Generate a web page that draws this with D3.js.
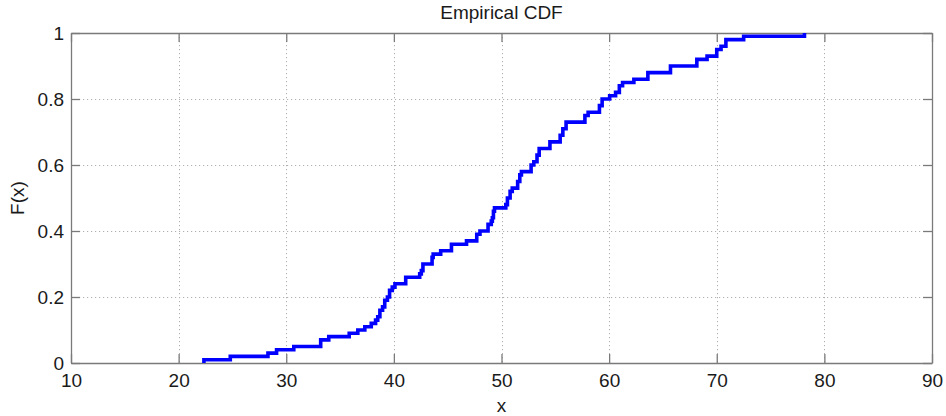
<!DOCTYPE html>
<html><head><meta charset="utf-8">
<script src="https://cdn.jsdelivr.net/npm/d3@7/dist/d3.min.js"></script>
<style>
body{margin:0;background:#fff}
text{font-family:"Liberation Sans",Arial,Helvetica,sans-serif;fill:#1a1a1a}
</style>
</head><body>
<svg id="c" width="946" height="416"></svg>
<script>
const title = "Empirical CDF";
const xLabel = "x";
const yLabel = "F(x)";
const xTicks = [10, 20, 30, 40, 50, 60, 70, 80, 90];
const yTicks = [0, 0.2, 0.4, 0.6, 0.8, 1];
// step locations (x) and CDF value after each step
const stepX = [22.35, 22.35, 24.8, 28.3, 29.1, 30.7, 33.2, 33.95, 35.85, 36.65, 37.3, 37.9, 38.3, 38.5, 38.7, 38.95, 39.15, 39.4, 39.6, 39.85, 40.1, 41.1, 42.4, 42.55, 42.7, 43.55, 43.65, 44.35, 45.35, 46.75, 47.7, 48.0, 48.75, 49.05, 49.15, 49.25, 49.35, 50.4, 50.55, 50.8, 51.0, 51.5, 51.7, 51.85, 52.75, 53.0, 53.3, 53.5, 54.5, 55.45, 55.7, 56.0, 57.75, 58.05, 59.1, 59.35, 60.05, 60.6, 60.95, 61.25, 62.3, 63.6, 65.7, 68.15, 69.1, 70.0, 70.4, 70.85, 72.5, 78.15];
const stepF = [0, 0.01, 0.02, 0.03, 0.04, 0.05, 0.07, 0.08, 0.09, 0.10, 0.11, 0.12, 0.13, 0.14, 0.16, 0.17, 0.19, 0.20, 0.22, 0.23, 0.24, 0.26, 0.27, 0.28, 0.30, 0.32, 0.33, 0.34, 0.36, 0.37, 0.39, 0.40, 0.42, 0.43, 0.44, 0.46, 0.47, 0.48, 0.50, 0.52, 0.53, 0.55, 0.57, 0.58, 0.60, 0.61, 0.63, 0.65, 0.67, 0.69, 0.71, 0.73, 0.75, 0.76, 0.78, 0.80, 0.81, 0.82, 0.84, 0.85, 0.86, 0.88, 0.90, 0.92, 0.93, 0.95, 0.96, 0.98, 0.99, 1.00];

const W = 946, H = 416;
const m = {l: 71, r: 932, t: 33, b: 363};
const svg = d3.select("#c");
const x = d3.scaleLinear().domain([10, 90]).range([m.l, m.r]);
const y = d3.scaleLinear().domain([0, 1]).range([m.b, m.t]);
const axisColor = "#7a7a7a";
const fs = 19;

// grid
const grid = svg.append("g").attr("stroke", "#b0b0b0").attr("stroke-width", 1).attr("stroke-dasharray", "1.2,2.8");
grid.selectAll("line.gx").data(xTicks.filter(d => d > 10 && d < 90)).join("line")
  .attr("x1", d => Math.round(x(d)) + 0.5).attr("x2", d => Math.round(x(d)) + 0.5)
  .attr("y1", m.t).attr("y2", m.b);
grid.selectAll("line.gy").data(yTicks.filter(d => d > 0 && d < 1)).join("line")
  .attr("y1", d => Math.round(y(d)) + 0.5).attr("y2", d => Math.round(y(d)) + 0.5)
  .attr("x1", m.l).attr("x2", m.r);

// axes
function styleAxis(g) {
  g.select(".domain").attr("stroke", axisColor).attr("stroke-width", 1.3);
  g.selectAll(".tick line").attr("stroke", axisColor).attr("stroke-width", 1.3);
  g.selectAll("text").style("font-size", fs + "px").attr("fill", "#1a1a1a")
    .style("font-family", "'Liberation Sans', Arial, sans-serif");
}
const gb = svg.append("g").attr("transform", `translate(0,${m.b})`)
  .call(d3.axisBottom(x).tickValues(xTicks).tickSizeInner(-9).tickSizeOuter(0).tickFormat(d3.format("d")));
styleAxis(gb);
gb.selectAll("text").attr("y", 23.7).attr("dy", 0);

const gl = svg.append("g").attr("transform", `translate(${m.l},0)`)
  .call(d3.axisLeft(y).tickValues(yTicks).tickSizeInner(-9).tickSizeOuter(0).tickFormat(d => String(+d.toFixed(1))));
styleAxis(gl);
gl.selectAll("text").attr("x", -7).attr("dy", "0.36em");

const gt = svg.append("g").attr("transform", `translate(0,${m.t})`)
  .call(d3.axisTop(x).tickValues(xTicks).tickSizeInner(-9).tickSizeOuter(0).tickFormat(""));
styleAxis(gt);
const gr = svg.append("g").attr("transform", `translate(${m.r},0)`)
  .call(d3.axisRight(y).tickValues(yTicks).tickSizeInner(-9).tickSizeOuter(0).tickFormat(""));
styleAxis(gr);

// CDF line
const pts = stepX.map((d, i) => [d, stepF[i]]);
svg.append("path").datum(pts)
  .attr("fill", "none").attr("stroke", "#0000ff").attr("stroke-width", 3.6)
  .attr("stroke-linejoin", "miter")
  .attr("d", d3.line().x(d => x(d[0])).y(d => y(d[1])).curve(d3.curveStepAfter));

// labels
svg.append("text").attr("x", (m.l + m.r) / 2).attr("y", 19).attr("text-anchor", "middle")
  .style("font-size", fs + "px").text(title);
svg.append("text").attr("x", (m.l + m.r) / 2).attr("y", 411.5).attr("text-anchor", "middle")
  .style("font-size", fs + "px").text(xLabel);
svg.append("text").attr("transform", `translate(24,${(m.t + m.b) / 2}) rotate(-90)`).attr("text-anchor", "middle")
  .style("font-size", fs + "px").text(yLabel);
</script>
</body></html>
